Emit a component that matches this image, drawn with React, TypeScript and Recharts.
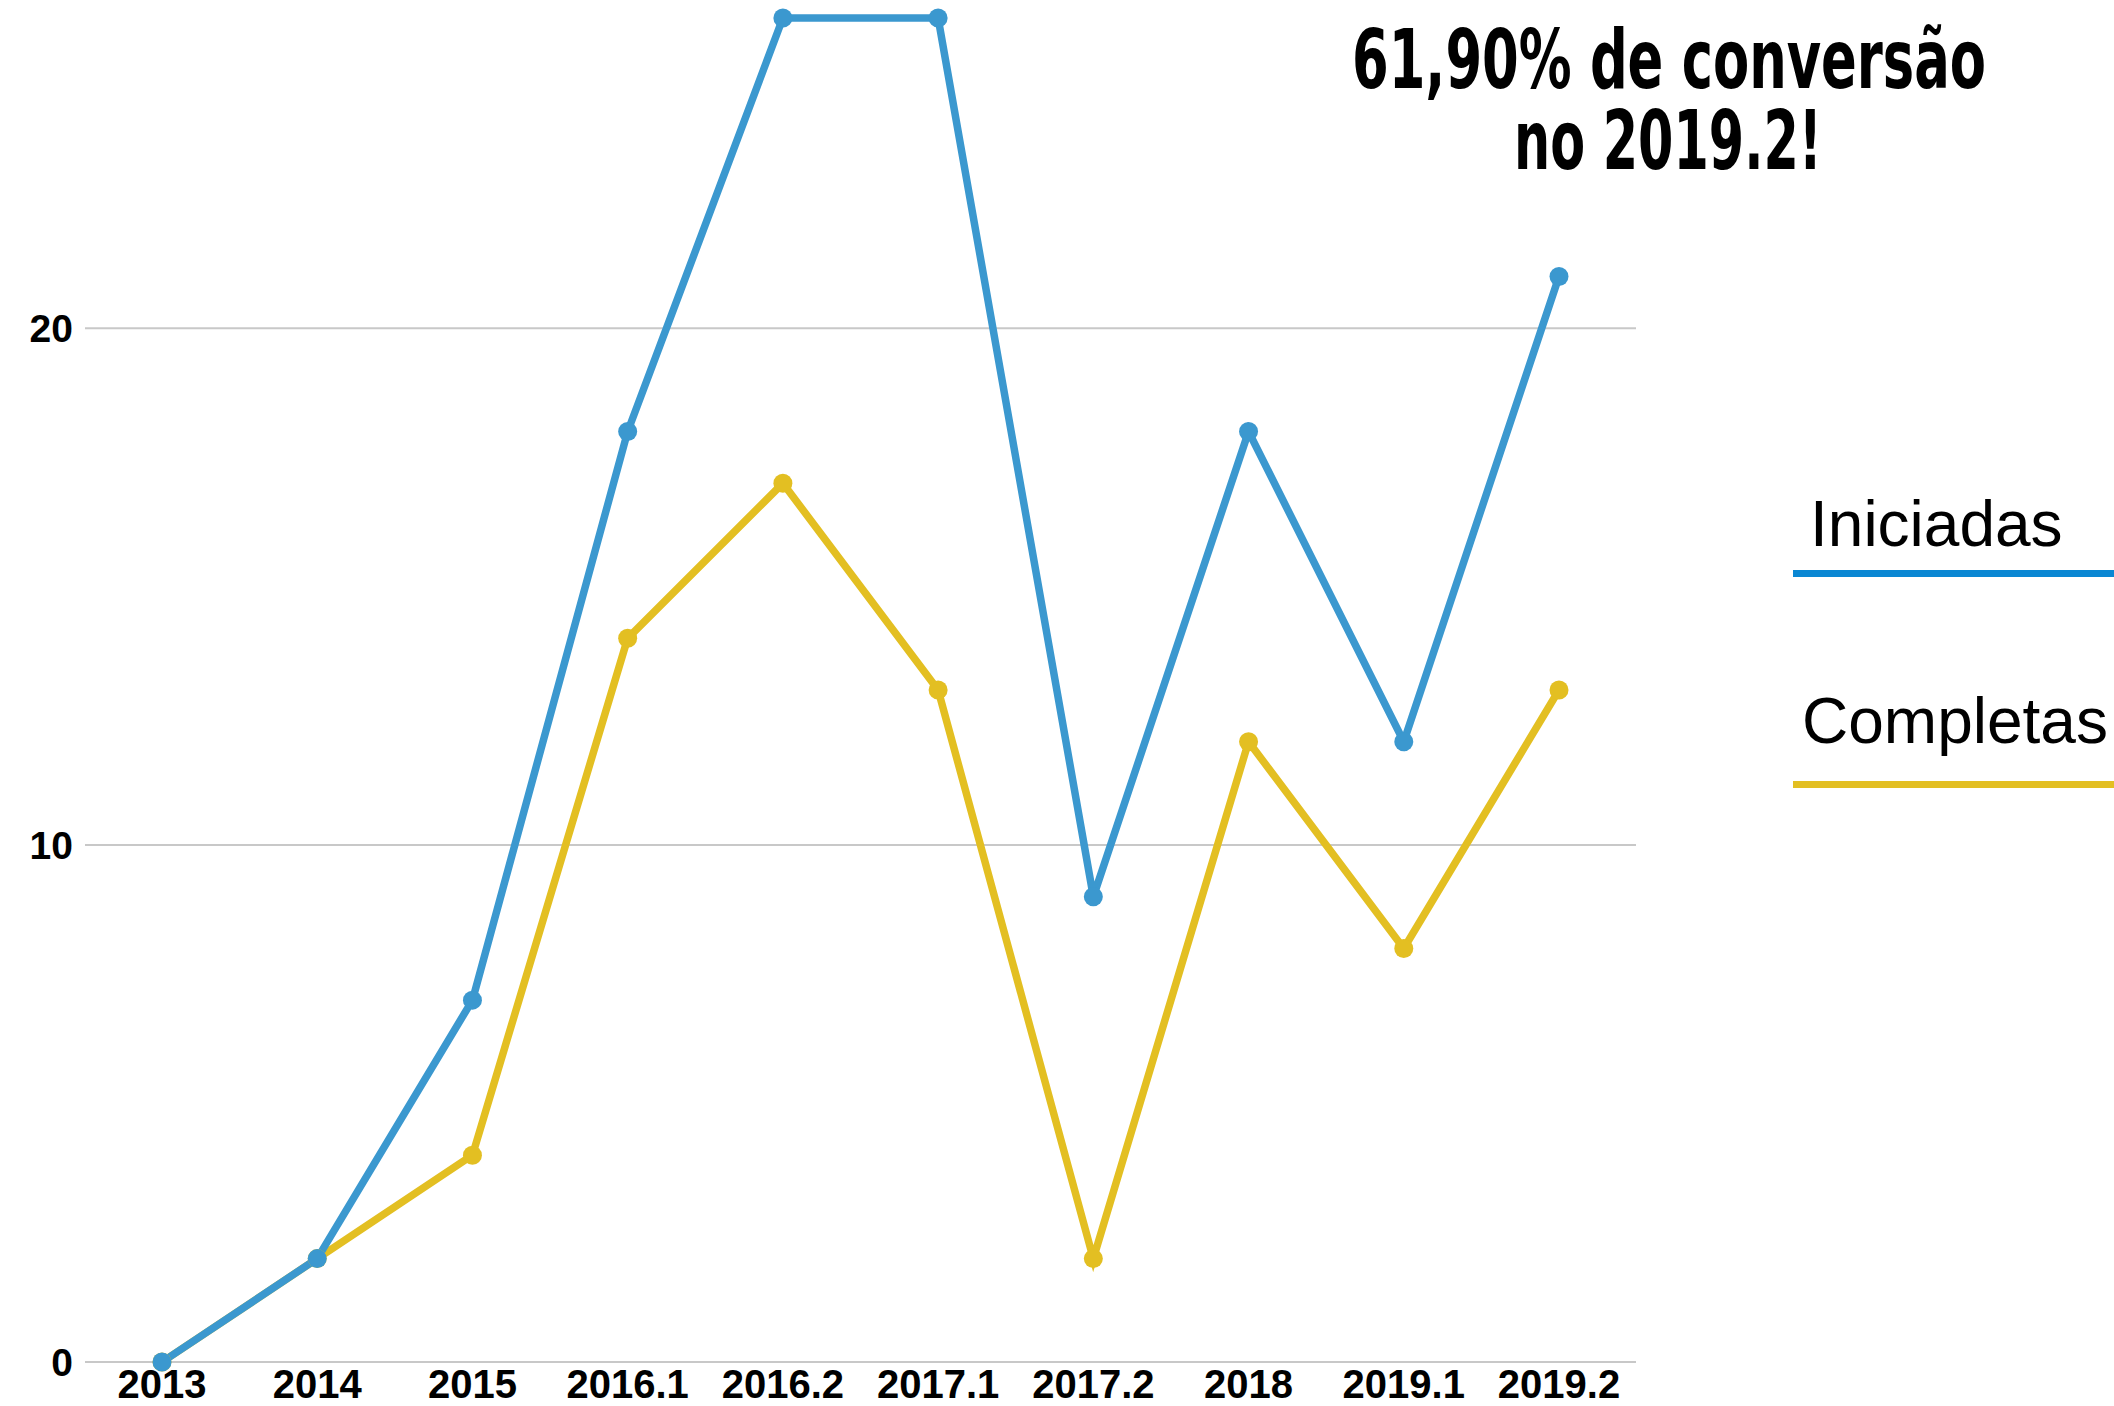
import { CartesianGrid, Line, LineChart, XAxis, YAxis } from "recharts";

// semestres / anos
const periodos = ["2013", "2014", "2015", "2016.1", "2016.2", "2017.1", "2017.2", "2018", "2019.1", "2019.2"];
const iniciadas = [0, 2, 7, 18, 26, 26, 9, 18, 12, 21];
const completas = [0, 2, 4, 14, 17, 13, 2, 12, 8, 13];
const yTicks = [0, 10, 20];

const dados = periodos.map((periodo, i) => ({
  periodo,
  iniciadas: iniciadas[i],
  completas: completas[i]
}));

const AZUL = "#3b98cf";
const AMARELO = "#e3bf22";

export default function App() {
  return (
    <div style={{ position: "absolute", left: 0, top: 0, width: 2114, height: 1406, background: "#fff" }}>
      <LineChart
        width={2114}
        height={1406}
        data={dados}
        margin={{ top: 18, right: 478, bottom: 0, left: 0 }}
      >
        <CartesianGrid
          horizontal
          vertical={false}
          horizontalValues={[10, 20]}
          stroke="#c8c8c8"
          strokeWidth={2}
        />
        <XAxis
          dataKey="periodo"
          height={44}
          padding={{ left: 77, right: 77 }}
          axisLine={{ stroke: "#c8c8c8", strokeWidth: 2 }}
          tickLine={false}
          tickSize={0}
          tickMargin={8}
          interval={0}
          tick={{ fill: "#000", fontSize: 40, fontWeight: 700, fontFamily: "Liberation Sans, Arial, sans-serif" }}
        />
        <YAxis
          width={85}
          domain={[0, 26]}
          ticks={yTicks}
          axisLine={false}
          tickLine={false}
          tickSize={0}
          tickMargin={12}
          tick={{ fill: "#000", fontSize: 39, fontWeight: 700, fontFamily: "Liberation Sans, Arial, sans-serif" }}
        />
        <Line
          dataKey="completas"
          stroke={AMARELO}
          strokeWidth={7.5}
          dot={{ r: 9.5, fill: AMARELO, stroke: AMARELO, strokeWidth: 0 }}
          isAnimationActive={false}
        />
        <Line
          dataKey="iniciadas"
          stroke={AZUL}
          strokeWidth={7.5}
          dot={{ r: 9.5, fill: AZUL, stroke: AZUL, strokeWidth: 0 }}
          isAnimationActive={false}
        />
      </LineChart>
      <svg
        width={2114}
        height={1406}
        style={{ position: "absolute", left: 0, top: 0, pointerEvents: "none" }}
      >
        <g fontFamily="Liberation Sans Narrow, DejaVu Sans Condensed, sans-serif" fontWeight={700} fill="#000" textAnchor="middle">
          <text x={1669} y={88} fontSize={82} textLength={634} lengthAdjust="spacingAndGlyphs">
            61,90% de conversão
          </text>
          <text x={1668} y={169} fontSize={82} textLength={308} lengthAdjust="spacingAndGlyphs">
            no 2019.2!
          </text>
        </g>
        <g fontFamily="Liberation Sans, Arial, sans-serif" fill="#000">
          <text x={1810} y={546} fontSize={64}>Iniciadas</text>
          <rect x={1793} y={570} width={321} height={7} fill="#0a87d3" />
          <text x={1802} y={743} fontSize={64}>Completas</text>
          <rect x={1793} y={781} width={321} height={7} fill={AMARELO} />
        </g>
      </svg>
    </div>
  );
}
